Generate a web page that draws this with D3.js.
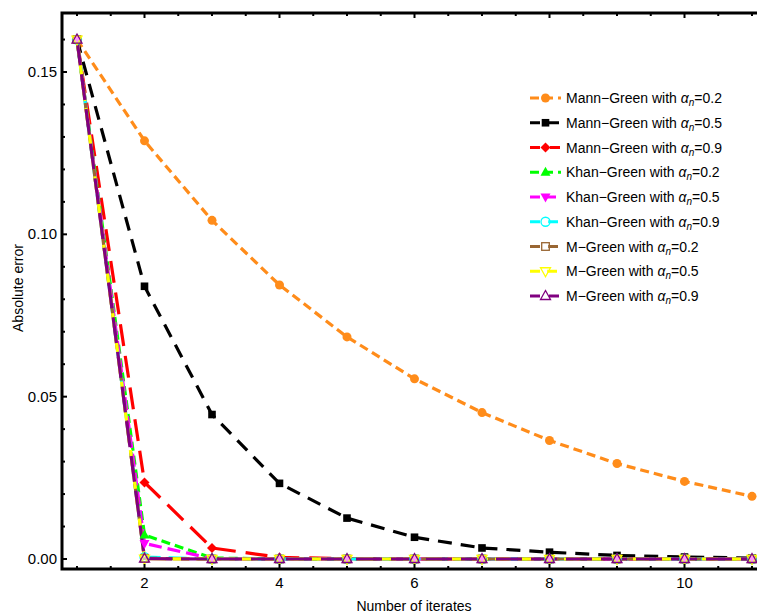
<!DOCTYPE html>
<html><head><meta charset="utf-8">
<script src="https://cdn.jsdelivr.net/npm/d3@7"></script>
<style>body{margin:0;background:#fff}svg{display:block;font-family:"Liberation Sans",Arial,sans-serif}</style>
</head><body>
<svg id="c" width="757" height="615"></svg>
<script>
const iterations = [1,2,3,4,5,6,7,8,9,10,11];
const mannGreen02 = [0.16,0.1288,0.1043,0.0844,0.0684,0.0555,0.0451,0.0365,0.0294,0.0239,0.0193];
const mannGreen05 = [0.16,0.0840,0.0445,0.0233,0.0126,0.0067,0.0034,0.0021,0.0011,0.0006,0.0003];
const mannGreen09 = [0.16,0.0236,0.0034,0.0005,0.0001,0,0,0,0,0,0];
const khanGreen02 = [0.16,0.0074,0.0003,0,0,0,0,0,0,0,0];
const khanGreen05 = [0.16,0.0048,0.0001,0,0,0,0,0,0,0,0];
const khanGreen09 = [0.16,0.0006,0,0,0,0,0,0,0,0,0];
const mGreen02 = [0.16,0.0002,0,0,0,0,0,0,0,0,0];
const mGreen05 = [0.16,0.0001,0,0,0,0,0,0,0,0,0];
const mGreen09 = [0.16,0.0001,0,0,0,0,0,0,0,0,0];
const seriesNames = ["Mann\u2212Green","Mann\u2212Green","Mann\u2212Green","Khan\u2212Green","Khan\u2212Green","Khan\u2212Green","M\u2212Green","M\u2212Green","M\u2212Green"];
const alphaValues = ["0.2","0.5","0.9","0.2","0.5","0.9","0.2","0.5","0.9"];
const xTicks = [2,4,6,8,10];
const yTicks = [0,0.05,0.10,0.15];

const series = [
  {v:mannGreen02,c:"#ff8c1a",dash:"9,5",m:"circle",fill:true},
  {v:mannGreen05,c:"#000000",dash:"14,9",m:"square",fill:true},
  {v:mannGreen09,c:"#ff0000",dash:"22,10",m:"diamond",fill:true},
  {v:khanGreen02,c:"#00ff00",dash:"9,5",m:"tri",fill:true},
  {v:khanGreen05,c:"#ff00ff",dash:"13,6",m:"tridown",fill:true},
  {v:khanGreen09,c:"#00ffff",dash:"18,8",m:"circle",fill:false},
  {v:mGreen02,c:"#996633",dash:"24,8",m:"square",fill:false},
  {v:mGreen05,c:"#ffff00",dash:"16,7",m:"tridown",fill:false},
  {v:mGreen09,c:"#800080",dash:"26,9",m:"tri",fill:false}
];
series.forEach((s,i)=>{s.name=seriesNames[i];s.a=alphaValues[i];});

const svg = d3.select("#c");
const x = d3.scaleLinear().domain([1,11]).range([77,752]);
const y = d3.scaleLinear().domain([0,0.15]).range([559,72]);
const L=62, R=766, T=13, B=569;

// lines
const line = d3.line().x((d,i)=>x(iterations[i])).y(d=>y(d));
const g = svg.append("g");
series.forEach(s=>{
  g.append("path").attr("d",line(s.v)).attr("fill","none").attr("stroke",s.c)
   .attr("stroke-width",3.2).attr("stroke-dasharray",s.dash);
});
function marker(sel, s, cx, cy){
  const r=4.5;
  let el;
  if(s.m==="circle") el=sel.append("circle").attr("cx",cx).attr("cy",cy).attr("r",r);
  else if(s.m==="square") el=sel.append("rect").attr("x",cx-3.8).attr("y",cy-3.8).attr("width",7.6).attr("height",7.6);
  else {
    let pts;
    if(s.m==="tri") pts=[[0,-5.5],[5,3.5],[-5,3.5]];
    else if(s.m==="tridown") pts=[[0,5.5],[5,-3.5],[-5,-3.5]];
    else pts=[[0,-5],[5,0],[0,5],[-5,0]];
    el=sel.append("polygon").attr("points",pts.map(p=>[cx+p[0],cy+p[1]].join(",")).join(" "));
  }
  if(s.fill) el.attr("fill",s.c).attr("stroke","none");
  else el.attr("fill","#fff").attr("fill-opacity",0.2).attr("stroke",s.c).attr("stroke-width",1.3);
}
series.forEach(s=>{
  s.v.forEach((d,i)=>marker(g,s,x(iterations[i]),y(d)));
});

// frame
const ax = svg.append("g");
ax.append("rect").attr("x",L).attr("y",T).attr("width",R-L).attr("height",B-T)
  .attr("fill","none").attr("stroke","#000").attr("stroke-width",3);
// x ticks
const xMinor = d3.range(1,11.01,0.5);
xMinor.forEach(t=>{
  const major = xTicks.includes(t);
  const len = major?5:3;
  ax.append("line").attr("x1",x(t)).attr("x2",x(t)).attr("y1",B).attr("y2",B-len).attr("stroke","#000").attr("stroke-width",2);
  ax.append("line").attr("x1",x(t)).attr("x2",x(t)).attr("y1",T).attr("y2",T+len).attr("stroke","#000").attr("stroke-width",2);
});
xTicks.forEach(t=>{
  ax.append("text").attr("x",x(t)).attr("y",588).attr("text-anchor","middle").attr("font-size",15).text(t);
});
const yMinor = d3.range(0,0.1601,0.01);
yMinor.forEach(t=>{
  const major = yTicks.some(v=>Math.abs(v-t)<1e-9);
  const len = major?5:3;
  ax.append("line").attr("x1",L).attr("x2",L+len).attr("y1",y(t)).attr("y2",y(t)).attr("stroke","#000").attr("stroke-width",2);
});
yTicks.forEach(t=>{
  ax.append("text").attr("x",57).attr("y",y(t)+5).attr("text-anchor","end").attr("font-size",15).text(d3.format(".2f")(t));
});
svg.append("text").attr("transform","translate(23,288) rotate(-90)").attr("text-anchor","middle").attr("font-size",14).text("Absolute error");
svg.append("text").attr("x",414).attr("y",611).attr("text-anchor","middle").attr("font-size",14).text("Number of iterates");

// legend
const lg = svg.append("g");
series.forEach((s,i)=>{
  const yy = 98 + i*24.75;
  lg.append("line").attr("x1",530).attr("x2",561).attr("y1",yy).attr("y2",yy).attr("stroke",s.c).attr("stroke-width",3.2)
    .attr("stroke-dasharray", s.dash.split(",").map(v=>Math.min(+v,10)).join(","));
  marker(lg,s,545.5,yy);
  const t = lg.append("text").attr("x",566).attr("y",yy+5).attr("font-size",14);
  t.append("tspan").text(s.name+" with ");
  t.append("tspan").attr("font-style","italic").text("\u03b1");
  t.append("tspan").attr("font-style","italic").attr("font-size",10).attr("dy",3).text("n");
  t.append("tspan").attr("dy",-3).text("="+s.a);
});
</script>
</body></html>
